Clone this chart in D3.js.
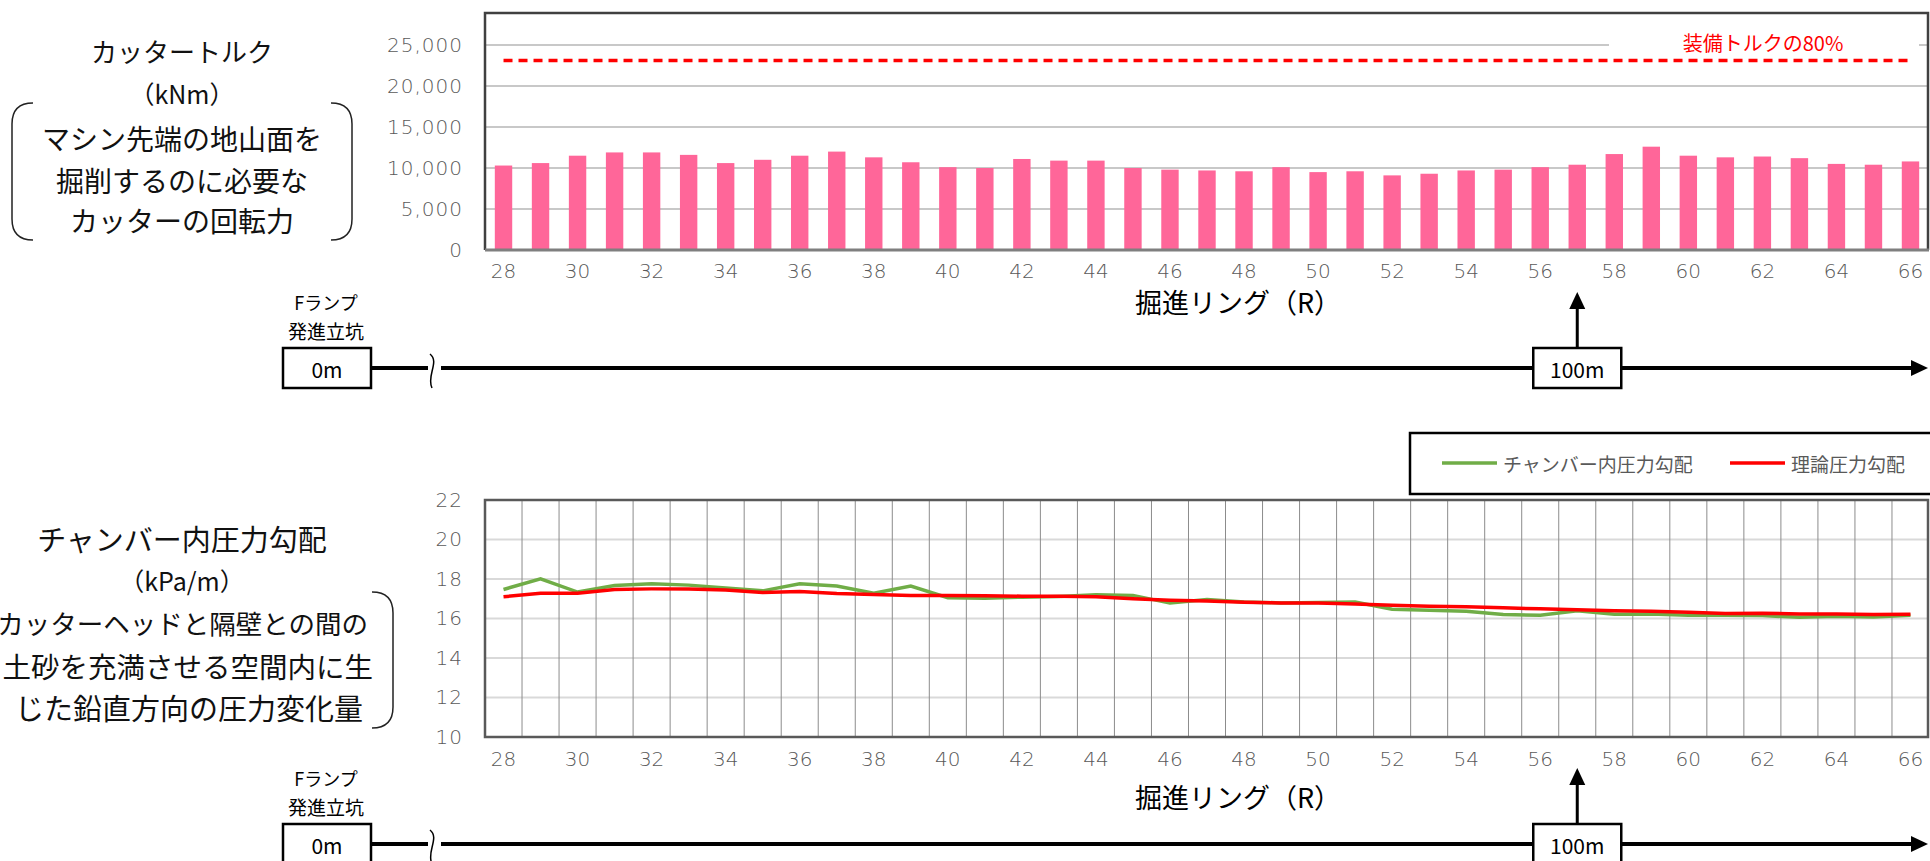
<!DOCTYPE html>
<html>
<head>
<meta charset="utf-8">
<script src="https://cdn.jsdelivr.net/npm/d3@7"></script>
<style>
  body { margin: 0; background: #fff; overflow: hidden; }
  text { font-family: "Noto Sans CJK JP", "Noto Sans", sans-serif; }
  .num text { font-family: "DejaVu Sans", "Noto Sans", sans-serif; font-weight: 300; fill: #595959; }
</style>
</head>
<body>
<script>
// ring numbers (掘進リング)
const rings = [28,29,30,31,32,33,34,35,36,37,38,39,40,41,42,43,44,45,46,47,
               48,49,50,51,52,53,54,55,56,57,58,59,60,61,62,63,64,65,66]
const ringLabels = [28,30,32,34,36,38,40,42,44,46,48,50,52,54,56,58,60,62,64,66]

// cutter torque (kNm)
const torque = [10300,10600,11500,11900,11900,11600,10600,11000,11500,12000,
                11300,10700,10100,10000,11100,10900,10900,10000,9800,9700,
                9600,10100,9500,9600,9100,9300,9700,9800,10100,10400,
                11700,12600,11500,11300,11400,11200,10500,10400,10800]
const torqueLimit = 23100   // 装備トルクの80%
const torqueTicks = [0,5000,10000,15000,20000,25000]

// chamber pressure gradient (kPa/m)
const chamber = [17.47,18.01,17.34,17.67,17.76,17.69,17.55,17.40,17.76,17.64,
                 17.28,17.64,17.05,17.03,17.08,17.12,17.20,17.17,16.78,16.96,
                 16.84,16.79,16.81,16.84,16.47,16.42,16.37,16.20,16.17,16.39,
                 16.22,16.23,16.17,16.17,16.15,16.06,16.11,16.08,16.17]
const theory = [17.10,17.28,17.28,17.47,17.50,17.49,17.44,17.32,17.37,17.27,
                17.22,17.17,17.17,17.15,17.13,17.13,17.10,17.00,16.93,16.89,
                16.82,16.79,16.79,16.74,16.67,16.62,16.60,16.54,16.49,16.44,
                16.39,16.37,16.32,16.25,16.27,16.23,16.23,16.20,16.22]
const gradTicks = [10,12,14,16,18,20,22]
const seriesNames = ['チャンバー内圧力勾配', '理論圧力勾配']

const markRing = 57   // 100m 地点

const svg = d3.select('body').append('svg')
      .attr('width', 1930)
      .attr('height', 861)

const x = d3.scaleBand().domain(rings).range([485, 1929])
const cx = function(r) { return x(r) + x.bandwidth() / 2 }

// ---------- top: cutter torque ----------
const yT = d3.scaleLinear().domain([0, 25000]).range([250, 45])
const topG = svg.append('g')

topG.append('g').selectAll('line')
  .data(torqueTicks.slice(1))
  .enter().append('line')
    .attr('x1', 485).attr('x2', 1929)
    .attr('y1', d => yT(d)).attr('y2', d => yT(d))
    .attr('stroke', '#c8c8c8').attr('stroke-width', 2)

const xb = x.copy().paddingInner(0.53).paddingOuter(0.265)
topG.append('g').selectAll('rect')
  .data(rings.map((r, i) => ({ring: r, v: torque[i]})))
  .enter().append('rect')
    .attr('x', d => xb(d.ring))
    .attr('y', d => yT(d.v))
    .attr('width', xb.bandwidth())
    .attr('height', d => yT(0) - yT(d.v))
    .attr('fill', '#ff6699')

topG.append('line')
  .attr('x1', cx(rings[0])).attr('x2', cx(rings[rings.length - 1]))
  .attr('y1', yT(torqueLimit)).attr('y2', yT(torqueLimit))
  .attr('stroke', '#ff0000').attr('stroke-width', 3.5)
  .attr('stroke-dasharray', '9,6')

topG.append('rect')
  .attr('x', 1609).attr('y', 32).attr('width', 310).attr('height', 22)
  .attr('fill', '#fff')
topG.append('text')
  .attr('x', 1763).attr('y', 42)
  .attr('text-anchor', 'middle').attr('dominant-baseline', 'central')
  .attr('font-size', 20).attr('fill', '#ff0000')
  .text('装備トルクの80%')

// frame
topG.append('path')
  .attr('d', 'M485,250 V13 H1928 V250')
  .attr('fill', 'none').attr('stroke', '#404040').attr('stroke-width', 2.5)
topG.append('line')
  .attr('x1', 485).attr('x2', 1929).attr('y1', 250).attr('y2', 250)
  .attr('stroke', '#7f7f7f').attr('stroke-width', 3)

const yAxisT = topG.append('g').attr('class', 'num')
  .attr('transform', 'translate(485,0)')
  .call(d3.axisLeft(yT).tickValues(torqueTicks).tickFormat(d3.format(',')).tickSize(0).tickPadding(22))
yAxisT.select('.domain').remove()
yAxisT.selectAll('text').attr('font-size', 20).attr('letter-spacing', 1)

const xAxisT = topG.append('g').attr('class', 'num')
  .attr('transform', 'translate(0,250)')
  .call(d3.axisBottom(x).tickValues(ringLabels).tickSize(0).tickPadding(14))
xAxisT.select('.domain').remove()
xAxisT.selectAll('text').attr('font-size', 20)

// ---------- bottom: chamber pressure gradient ----------
const yB = d3.scaleLinear().domain([10, 22]).range([737, 500])
const botG = svg.append('g')

botG.append('g').selectAll('line')
  .data(gradTicks.slice(1, -1))
  .enter().append('line')
    .attr('x1', 485).attr('x2', 1929)
    .attr('y1', d => yB(d)).attr('y2', d => yB(d))
    .attr('stroke', '#d9d9d9').attr('stroke-width', 2)

botG.append('g').selectAll('line')
  .data(rings.slice(1))
  .enter().append('line')
    .attr('x1', d => x(d)).attr('x2', d => x(d))
    .attr('y1', 500).attr('y2', 737)
    .attr('stroke', '#8c8c8c').attr('stroke-width', 1)

const line = d3.line()
      .x(d => cx(d.ring))
      .y(d => yB(d.v))
botG.append('path')
  .datum(rings.map((r, i) => ({ring: r, v: chamber[i]})))
  .attr('d', line)
  .attr('fill', 'none').attr('stroke', '#70ad47').attr('stroke-width', 3.5)
botG.append('path')
  .datum(rings.map((r, i) => ({ring: r, v: theory[i]})))
  .attr('d', line)
  .attr('fill', 'none').attr('stroke', '#ff0000').attr('stroke-width', 3.5)

botG.append('rect')
  .attr('x', 485).attr('y', 500).attr('width', 1443).attr('height', 237)
  .attr('fill', 'none').attr('stroke', '#595959').attr('stroke-width', 2.5)

const yAxisB = botG.append('g').attr('class', 'num')
  .attr('transform', 'translate(485,0)')
  .call(d3.axisLeft(yB).tickValues(gradTicks).tickSize(0).tickPadding(22))
yAxisB.select('.domain').remove()
yAxisB.selectAll('text').attr('font-size', 20).attr('letter-spacing', 1)

const xAxisB = botG.append('g').attr('class', 'num')
  .attr('transform', 'translate(0,737)')
  .call(d3.axisBottom(x).tickValues(ringLabels).tickSize(0).tickPadding(15))
xAxisB.select('.domain').remove()
xAxisB.selectAll('text').attr('font-size', 20)

// legend
const legend = botG.append('g')
legend.append('rect')
  .attr('x', 1410).attr('y', 433).attr('width', 540).attr('height', 61)
  .attr('fill', '#fff').attr('stroke', '#000').attr('stroke-width', 2.5)
const legX = [1442, 1730]
const legColor = ['#70ad47', '#ff0000']
seriesNames.forEach(function(name, i) {
  legend.append('line')
    .attr('x1', legX[i]).attr('x2', legX[i] + 55)
    .attr('y1', 463).attr('y2', 463)
    .attr('stroke', legColor[i]).attr('stroke-width', 3.5)
  legend.append('text')
    .attr('x', legX[i] + 61).attr('y', 463)
    .attr('dominant-baseline', 'central')
    .attr('font-size', 19).attr('fill', '#595959')
    .text(name)
})

// ---------- left side captions ----------
function caption(lines, bracket) {
  const g = svg.append('g')
  lines.forEach(function(l) {
    g.append('text')
      .attr('x', l.x || 182).attr('y', l.y)
      .attr('text-anchor', l.anchor || 'middle').attr('dominant-baseline', 'central')
      .attr('font-size', l.size).attr('fill', '#111')
      .text(l.t)
  })
  const r = 21, b = bracket
  g.append('path')
    .attr('d', `M${b.x0 + r},${b.y0} Q${b.x0},${b.y0} ${b.x0},${b.y0 + r} V${b.y1 - r} Q${b.x0},${b.y1} ${b.x0 + r},${b.y1}` +
               ` M${b.x1 - r},${b.y0} Q${b.x1},${b.y0} ${b.x1},${b.y0 + r} V${b.y1 - r} Q${b.x1},${b.y1} ${b.x1 - r},${b.y1}`)
    .attr('fill', 'none').attr('stroke', '#222').attr('stroke-width', 1.5)
}
caption([
  {t: 'カッタートルク', y: 50, size: 26},
  {t: '（kNm）', y: 93, size: 25},
  {t: 'マシン先端の地山面を', y: 138, size: 28},
  {t: '掘削するのに必要な', y: 180, size: 28},
  {t: 'カッターの回転力', y: 220, size: 28}
], {x0: 12, x1: 352, y0: 103, y1: 240})
caption([
  {t: 'チャンバー内圧力勾配', y: 538, size: 29},
  {t: '（kPa/m）', y: 580, size: 25},
  {t: 'カッターヘッドと隔壁との間の', y: 622, size: 26.5, x: 368, anchor: 'end'},
  {t: '土砂を充満させる空間内に生', y: 665, size: 28.5, x: 373, anchor: 'end'},
  {t: 'じた鉛直方向の圧力変化量', y: 707, size: 29, x: 363, anchor: 'end'}
], {x0: -29, x1: 393, y0: 592, y1: 728})

// ---------- distance timelines ----------
function timeline(y0, titleY) {
  const g = svg.append('g')
  g.append('text').attr('x', 326).attr('y', y0 - 66)
    .attr('text-anchor', 'middle').attr('dominant-baseline', 'central')
    .attr('font-size', 18).text('Fランプ')
  g.append('text').attr('x', 326).attr('y', y0 - 38)
    .attr('text-anchor', 'middle').attr('dominant-baseline', 'central')
    .attr('font-size', 19).text('発進立坑')
  g.append('text').attr('x', 1238).attr('y', titleY)
    .attr('text-anchor', 'middle').attr('dominant-baseline', 'central')
    .attr('font-size', 27).text('掘進リング（R）')

  g.append('line').attr('x1', 371).attr('x2', 428).attr('y1', y0).attr('y2', y0)
    .attr('stroke', '#000').attr('stroke-width', 4)
  g.append('path')
    .attr('d', `M430,${y0 - 14} C440,${y0 - 6} 426,${y0 + 8} 432,${y0 + 20}`)
    .attr('fill', 'none').attr('stroke', '#000').attr('stroke-width', 1.5)
  g.append('line').attr('x1', 441).attr('x2', 1914).attr('y1', y0).attr('y2', y0)
    .attr('stroke', '#000').attr('stroke-width', 4)
  g.append('path')
    .attr('d', `M1928,${y0} L1911,${y0 - 8} L1911,${y0 + 8} Z`).attr('fill', '#000')

  const mx = cx(markRing)
  g.append('line').attr('x1', mx).attr('x2', mx).attr('y1', y0 - 20).attr('y2', y0 - 62)
    .attr('stroke', '#000').attr('stroke-width', 3)
  g.append('path')
    .attr('d', `M${mx},${y0 - 76} L${mx - 8},${y0 - 59} L${mx + 8},${y0 - 59} Z`).attr('fill', '#000')

  const boxes = [{cx: 327, t: '0m'}, {cx: mx, t: '100m'}]
  boxes.forEach(function(b) {
    g.append('rect').attr('x', b.cx - 44).attr('y', y0 - 20).attr('width', 88).attr('height', 40)
      .attr('fill', '#fff').attr('stroke', '#000').attr('stroke-width', 2.5)
    g.append('text').attr('x', b.cx).attr('y', y0 + 1)
      .attr('text-anchor', 'middle').attr('dominant-baseline', 'central')
      .attr('font-size', 21).text(b.t)
  })
}
timeline(368, 301)
timeline(844, 796)
</script>
</body>
</html>
